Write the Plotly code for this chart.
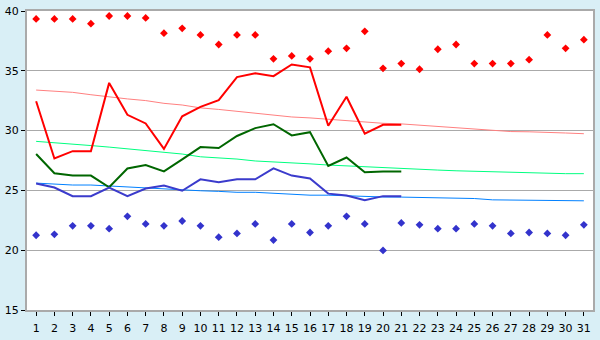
import plotly.graph_objects as go

days = list(range(1, 32))

record_max = [39.34, 39.34, 39.34, 38.94, 39.58, 39.58, 39.42, 38.15, 38.55, 38.0,
              37.2, 38.0, 38.0, 36.0, 36.24, 36.0, 36.64, 36.88, 38.3, 35.21,
              35.6, 35.13, 36.8, 37.2, 35.6, 35.6, 35.6, 35.93, 38.0, 36.88, 37.6]

record_min = [21.25, 21.33, 22.04, 22.04, 21.8, 22.83, 22.2, 22.04, 22.44, 22.04,
              21.09, 21.4, 22.2, 20.85, 22.2, 21.48, 22.04, 22.83, 22.2, 19.98,
              22.28, 22.12, 21.8, 21.8, 22.2, 22.04, 21.4, 21.48, 21.4, 21.25, 22.12]

actual_max = [32.46, 27.67, 28.28, 28.28, 33.99, 31.32, 30.6, 28.47, 31.19, 31.98,
              32.54, 34.47, 34.79, 34.55, 35.53, 35.29, 30.4, 32.83, 29.74, 30.48, 30.48]

actual_avg = [28.04, 26.43, 26.24, 26.24, 25.26, 26.83, 27.12, 26.59, 27.6, 28.62,
              28.54, 29.55, 30.21, 30.53, 29.6, 29.87, 27.04, 27.75, 26.51, 26.59, 26.59]

actual_min = [25.58, 25.24, 24.52, 24.52, 25.24, 24.52, 25.16, 25.4, 24.97, 25.93,
              25.69, 25.93, 25.93, 26.85, 26.24, 26.0, 24.73, 24.58, 24.18, 24.52, 24.52]

normal_max = [33.39, 33.31, 33.2, 33.0, 32.8, 32.65, 32.51, 32.28, 32.14, 31.9,
              31.77, 31.61, 31.43, 31.27, 31.14, 31.06, 30.95, 30.82, 30.71, 30.61,
              30.56, 30.45, 30.32, 30.24, 30.13, 30.0, 29.92, 29.9, 29.82, 29.8, 29.74]

normal_avg = [29.1, 29.0, 28.86, 28.75, 28.62, 28.49, 28.36, 28.17, 28.04, 27.81,
              27.72, 27.62, 27.46, 27.4, 27.3, 27.22, 27.12, 27.04, 26.98, 26.88,
              26.83, 26.75, 26.7, 26.64, 26.6, 26.51, 26.51, 26.48, 26.4, 26.4, 26.4]

normal_min = [25.61, 25.53, 25.45, 25.45, 25.37, 25.24, 25.22, 25.13, 25.05, 24.97,
              24.92, 24.84, 24.84, 24.76, 24.68, 24.6, 24.6, 24.55, 24.47, 24.45,
              24.44, 24.42, 24.34, 24.34, 24.32, 24.21, 24.2, 24.2, 24.13, 24.13, 24.13]

y_ticks = [15, 20, 25, 30, 35, 40]

fig = go.Figure()

def line(y, color, width):
    fig.add_trace(go.Scatter(x=days[:len(y)], y=y, mode="lines",
                             line=dict(color=color, width=width), showlegend=False,
                             hoverinfo="skip"))

line(normal_max, "#ff8080", 1)
line(normal_avg, "#00ff80", 1)
line(normal_min, "#0080ff", 1)
line(actual_max, "#ff0000", 2)
line(actual_avg, "#006600", 2)
line(actual_min, "#3b3bcc", 2)

fig.add_trace(go.Scatter(x=days, y=record_max, mode="markers",
                         marker=dict(symbol="diamond", size=6, color="#ff0000"),
                         showlegend=False))
fig.add_trace(go.Scatter(x=days, y=record_min, mode="markers",
                         marker=dict(symbol="diamond", size=6, color="#3333cc"),
                         showlegend=False))

axis_font = dict(family="DejaVu Sans", size=11, color="#000000")

fig.update_layout(
    width=600, height=340,
    margin=dict(l=20, r=5, t=5, b=20),
    paper_bgcolor="#d9eff6",
    plot_bgcolor="#ffffff",
    xaxis=dict(range=[0.5, 31.5], tickvals=days, ticktext=[str(d) for d in days],
               showgrid=False, zeroline=False, showline=True, linecolor="#aaaaaa",
               linewidth=2, mirror=True, ticks="outside", ticklen=4, tickcolor="#000000",
               tickfont=axis_font, ticklabelstandoff=3),
    yaxis=dict(range=[15, 40], tickvals=y_ticks, showgrid=True, gridcolor="#aaaaaa",
               gridwidth=1, zeroline=False, showline=True, linecolor="#aaaaaa",
               linewidth=2, mirror=True, ticks="outside", ticklen=4, tickcolor="#000000",
               tickfont=axis_font),
)

fig.write_html("out.html")
